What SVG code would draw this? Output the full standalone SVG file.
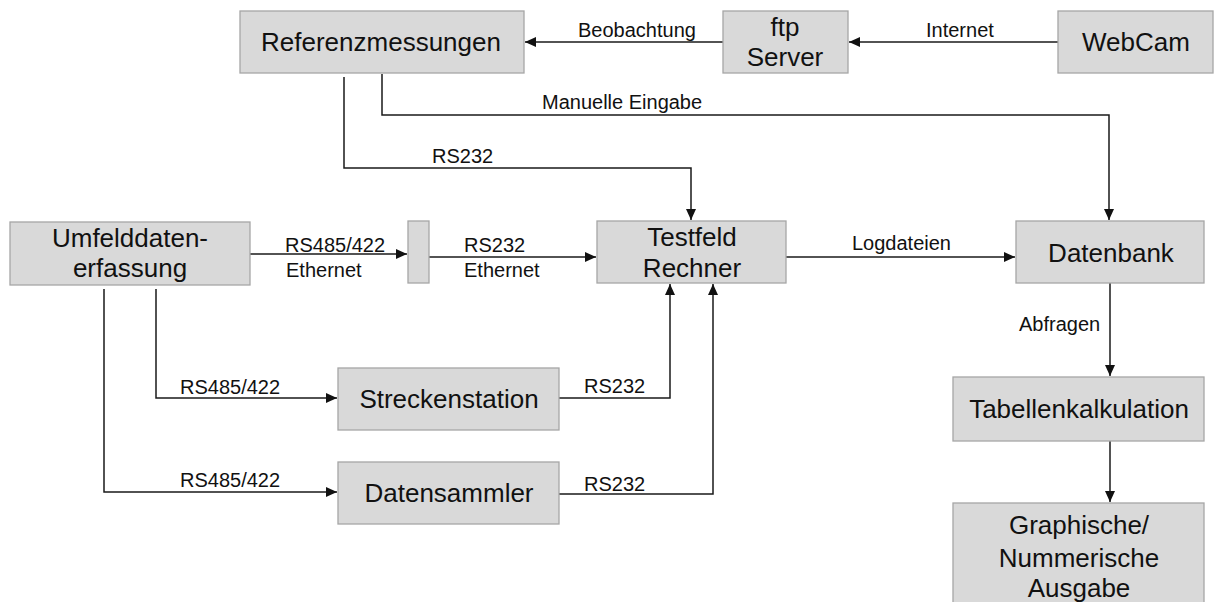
<svg xmlns="http://www.w3.org/2000/svg" width="1214" height="602" viewBox="0 0 1214 602">
  <style>
    .box { fill: #d9d9d9; stroke: #a6a6a6; stroke-width: 1.3; }
    .nt { font-family: "Liberation Sans", Arial, sans-serif; font-size: 26px; fill: #111; text-anchor: middle; }
    .lbl { font-family: "Liberation Sans", Arial, sans-serif; font-size: 20px; fill: #111; }
    .wire { fill: none; stroke: #1a1a1a; stroke-width: 1.5; }
  </style>
  <defs>
    <marker id="arrow" markerUnits="userSpaceOnUse" markerWidth="12" markerHeight="11" refX="11" refY="5" orient="auto">
      <path d="M0,0 L11,5 L0,10 Z" fill="#111"/>
    </marker>
  </defs>
  <rect width="1214" height="602" fill="#fff"/>

  <g id="connectors">
    <path class="wire" d="M1058,42 H849" marker-end="url(#arrow)"/>
    <path class="wire" d="M723,42 H525" marker-end="url(#arrow)"/>
    <path class="wire" d="M382,74 V115 H1109 V220" marker-end="url(#arrow)"/>
    <path class="wire" d="M344,77 V168 H691 V220" marker-end="url(#arrow)"/>
    <path class="wire" d="M250,254 H407" marker-end="url(#arrow)"/>
    <path class="wire" d="M429,257 H596" marker-end="url(#arrow)"/>
    <path class="wire" d="M786,257 H1015" marker-end="url(#arrow)"/>
    <path class="wire" d="M156,289 V398 H337" marker-end="url(#arrow)"/>
    <path class="wire" d="M104,289 V492 H337" marker-end="url(#arrow)"/>
    <path class="wire" d="M559,398 H670 V284" marker-end="url(#arrow)"/>
    <path class="wire" d="M559,494 H713 V284" marker-end="url(#arrow)"/>
    <path class="wire" d="M1110,283 V376" marker-end="url(#arrow)"/>
    <path class="wire" d="M1110,441 V502" marker-end="url(#arrow)"/>

    <text class="lbl" x="578" y="37">Beobachtung</text>
    <text class="lbl" x="926" y="37">Internet</text>
    <text class="lbl" x="542" y="109">Manuelle Eingabe</text>
    <text class="lbl" x="432" y="163">RS232</text>
    <text class="lbl" x="285" y="252">RS485/422</text>
    <text class="lbl" x="286" y="277">Ethernet</text>
    <text class="lbl" x="464" y="252">RS232</text>
    <text class="lbl" x="464" y="277">Ethernet</text>
    <text class="lbl" x="852" y="250">Logdateien</text>
    <text class="lbl" x="180" y="394">RS485/422</text>
    <text class="lbl" x="180" y="487">RS485/422</text>
    <text class="lbl" x="584" y="393">RS232</text>
    <text class="lbl" x="584" y="491">RS232</text>
    <text class="lbl" x="1019" y="331">Abfragen</text>
  </g>

  <g id="referenzmessungen">
    <rect class="box" x="240" y="11" width="284" height="62"/>
    <text class="nt" x="381" y="51">Referenzmessungen</text>
  </g>
  <g id="ftp-server">
    <rect class="box" x="723" y="11" width="125" height="62"/>
    <text class="nt" x="785" y="36">ftp</text>
    <text class="nt" x="785" y="66">Server</text>
  </g>
  <g id="webcam">
    <rect class="box" x="1058" y="11" width="155" height="62"/>
    <text class="nt" x="1136" y="51">WebCam</text>
  </g>
  <g id="umfelddatenerfassung">
    <rect class="box" x="10" y="222" width="240" height="63"/>
    <text class="nt" x="130" y="247">Umfelddaten-</text>
    <text class="nt" x="130" y="277">erfassung</text>
  </g>
  <g id="umsetzer">
    <rect class="box" x="408" y="221" width="21" height="62"/>
  </g>
  <g id="testfeld-rechner">
    <rect class="box" x="597" y="221" width="189" height="62"/>
    <text class="nt" x="692" y="246">Testfeld</text>
    <text class="nt" x="692" y="277">Rechner</text>
  </g>
  <g id="datenbank">
    <rect class="box" x="1016" y="221" width="188" height="62"/>
    <text class="nt" x="1111" y="262">Datenbank</text>
  </g>
  <g id="streckenstation">
    <rect class="box" x="338" y="368" width="221" height="62"/>
    <text class="nt" x="449" y="408">Streckenstation</text>
  </g>
  <g id="datensammler">
    <rect class="box" x="338" y="462" width="221" height="62"/>
    <text class="nt" x="449" y="502">Datensammler</text>
  </g>
  <g id="tabellenkalkulation">
    <rect class="box" x="953" y="377" width="251" height="64"/>
    <text class="nt" x="1079" y="418">Tabellenkalkulation</text>
  </g>
  <g id="ausgabe">
    <rect class="box" x="953" y="503" width="251" height="110"/>
    <text class="nt" x="1079" y="534">Graphische/</text>
    <text class="nt" x="1079" y="567">Nummerische</text>
    <text class="nt" x="1079" y="597">Ausgabe</text>
  </g>
</svg>
